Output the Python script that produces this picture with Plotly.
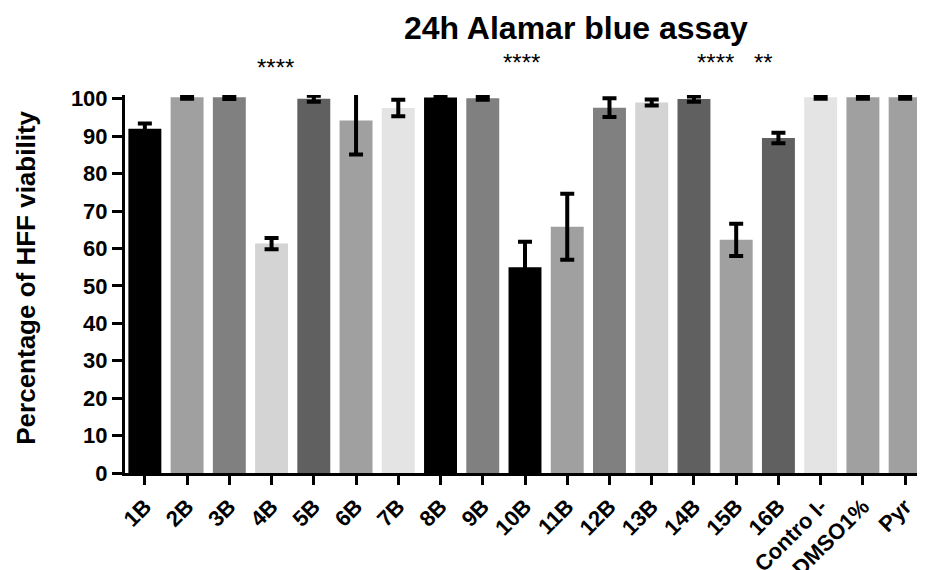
import plotly.graph_objects as go

categories = ["1B", "2B", "3B", "4B", "5B", "6B", "7B", "8B", "9B", "10B",
              "11B", "12B", "13B", "14B", "15B", "16B", "Contro l-", "DMSO1%", "Pyr"]
viability = [92.0, 100.4, 100.4, 61.3, 100.0, 94.2, 97.5, 100.3, 100.1, 55.0,
             65.8, 97.6, 99.0, 99.9, 62.3, 89.5, 100.4, 100.4, 100.4]
errors = [1.4, 0.4, 0.5, 1.5, 0.8, 9.1, 2.2, 0.2, 0.4, 6.8,
          8.8, 2.5, 0.8, 0.7, 4.3, 1.4, 0.4, 0.4, 0.4]
bar_colors = ["#000000", "#a0a0a0", "#808080", "#d4d4d4", "#606060", "#a0a0a0", "#e4e4e4",
              "#000000", "#808080", "#000000", "#a0a0a0", "#808080", "#d4d4d4", "#606060",
              "#a0a0a0", "#606060", "#e4e4e4", "#a0a0a0", "#a0a0a0"]
y_ticks = [0, 10, 20, 30, 40, 50, 60, 70, 80, 90, 100]

# significance marks: (category, text, paper y, x pixel shift)
sig_marks = [("4B", "****", 1.074, 4), ("10B", "****", 1.087, -4),
             ("15B", "****", 1.087, -21), ("16B", "**", 1.087, -15)]

FONT = "Liberation Sans, Arial, sans-serif"

fig = go.Figure()
fig.add_trace(go.Bar(
    x=categories, y=viability,
    marker=dict(color=bar_colors, line=dict(width=0)),
    error_y=dict(type="data", array=errors, visible=True, color="black",
                 thickness=4, width=7),
    cliponaxis=True,
))

for cat, txt, yv, xs in sig_marks:
    fig.add_annotation(x=cat, y=yv, xref="x", yref="paper", text=txt, showarrow=False,
                       xshift=xs, font=dict(family=FONT, size=24, color="black"),
                       xanchor="center", yanchor="middle")

fig.add_annotation(x=-0.124, y=0.516, xref="paper", yref="paper",
                   text="Percentage of HFF viability", textangle=-90, showarrow=False,
                   font=dict(family=FONT, size=26, color="black", weight="bold"),
                   xanchor="center", yanchor="middle")

fig.update_layout(
    width=925, height=570, autosize=False,
    margin=dict(l=117, r=8, t=87, b=105),
    plot_bgcolor="white", paper_bgcolor="white",
    bargap=0.22,
    showlegend=False,
    title=dict(text="24h Alamar blue assay", x=0.614, xanchor="center",
               y=0.965, yanchor="middle",
               font=dict(family=FONT, size=32, color="black", weight="bold")),
    xaxis=dict(range=[-0.47, 18.47], showgrid=False, zeroline=False, automargin=False,
               showline=True, linecolor="black", linewidth=3,
               ticks="outside", ticklen=9, tickwidth=3, tickcolor="black",
               tickangle=-45,
               tickfont=dict(family=FONT, size=22, color="black", weight="bold")),
    yaxis=dict(range=[0, 101], showgrid=False, zeroline=False, automargin=False,
               showline=True, linecolor="black", linewidth=3,
               ticks="outside", ticklen=10, tickwidth=3, tickcolor="black",
               tickvals=y_ticks, ticktext=[str(v) for v in y_ticks],
               tickfont=dict(family=FONT, size=22, color="black", weight="bold")),
)

fig.write_html("out.html")
